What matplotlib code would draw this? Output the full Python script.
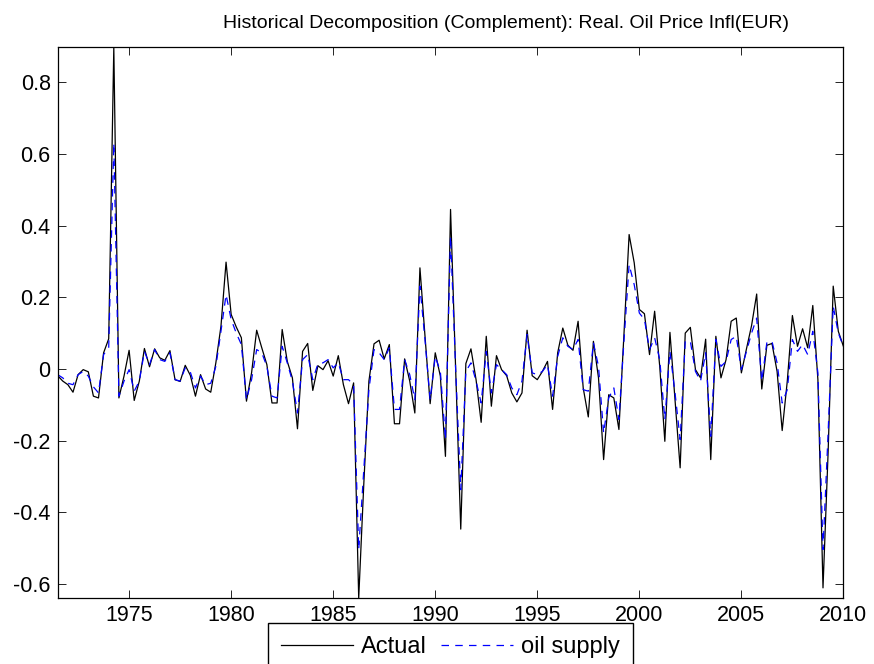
import matplotlib
matplotlib.use('Agg')
import matplotlib.pyplot as plt
import numpy as np

# ── Data: quarterly, 1971Q3 .. 2010Q1 ─────────────────────────────────────────
start_year = 1971.5
actual = [
    -0.019, -0.034, -0.044, -0.065, -0.016, -0.002, -0.008, -0.076, -0.081, 0.045,
    0.084, 0.897, -0.081, -0.020, 0.052, -0.088, -0.034, 0.057, 0.006, 0.056,
    0.031, 0.024, 0.051, -0.030, -0.035, 0.010, -0.018, -0.076, -0.016, -0.056,
    -0.065, 0.017, 0.119, 0.298, 0.152, 0.117, 0.087, -0.090, -0.011, 0.108,
    0.059, 0.012, -0.095, -0.095, 0.110, 0.021, -0.025, -0.167, 0.049, 0.071,
    -0.060, 0.009, -0.002, 0.023, -0.020, 0.037, -0.044, -0.097, -0.039, -0.640,
    -0.320, -0.034, 0.070, 0.080, 0.028, 0.068, -0.153, -0.153, 0.028, -0.034,
    -0.123, 0.282, 0.090, -0.097, 0.045, -0.020, -0.244, 0.445, 0.000, -0.447,
    0.015, 0.056, -0.030, -0.149, 0.091, -0.104, 0.037, -0.002, -0.019, -0.067,
    -0.092, -0.067, 0.108, -0.019, -0.030, -0.007, 0.021, -0.113, 0.045, 0.114,
    0.066, 0.052, 0.133, -0.053, -0.134, 0.077, -0.025, -0.253, -0.072, -0.081,
    -0.169, 0.100, 0.375, 0.296, 0.166, 0.154, 0.040, 0.161, 0.007, -0.202,
    0.102, -0.086, -0.276, 0.100, 0.116, -0.002, -0.025, 0.083, -0.253, 0.091,
    -0.025, 0.026, 0.133, 0.142, -0.011, 0.056, 0.121, 0.209, -0.056, 0.066,
    0.071, -0.007, -0.172, -0.034, 0.149, 0.063, 0.112, 0.059, 0.177, -0.030,
    -0.611, -0.234, 0.231, 0.105, 0.063,
]
oil_supply = [
    -0.016, -0.025, -0.040, -0.044, -0.016, -0.007, -0.020, -0.050, -0.067, 0.040,
    0.059, 0.630, -0.076, -0.034, -0.002, -0.062, -0.034, 0.049, 0.012, 0.054,
    0.026, 0.021, 0.045, -0.030, -0.034, 0.003, -0.009, -0.053, -0.020, -0.044,
    -0.040, 0.007, 0.105, 0.207, 0.138, 0.100, 0.068, -0.086, -0.030, 0.054,
    0.045, 0.007, -0.076, -0.081, 0.063, 0.017, -0.034, -0.123, 0.026, 0.040,
    -0.030, 0.014, 0.017, 0.026, 0.003, 0.017, -0.030, -0.030, -0.044, -0.504,
    -0.280, -0.058, 0.054, 0.045, 0.026, 0.059, -0.113, -0.113, 0.026, -0.016,
    -0.086, 0.231, 0.080, -0.086, 0.035, -0.007, -0.197, 0.370, 0.000, -0.337,
    -0.007, 0.017, -0.034, -0.095, 0.049, -0.067, 0.012, -0.002, -0.016, -0.053,
    -0.072, -0.034, 0.096, -0.011, -0.016, -0.007, 0.012, -0.076, 0.035, 0.087,
    0.063, 0.054, 0.082, -0.058, -0.062, 0.073, 0.007, -0.179, -0.081, -0.053,
    -0.141, 0.080, 0.291, 0.235, 0.156, 0.138, 0.054, 0.087, 0.026, -0.141,
    0.049, -0.067, -0.197, 0.077, 0.077, -0.007, -0.034, 0.045, -0.188, 0.082,
    0.007, 0.021, 0.082, 0.091, -0.002, 0.049, 0.100, 0.142, -0.034, 0.074,
    0.077, 0.017, -0.095, -0.058, 0.082, 0.049, 0.068, 0.040, 0.105, -0.011,
    -0.504, -0.179, 0.175, 0.100, 0.063,
]
x_ticks = [1975, 1980, 1985, 1990, 1995, 2000, 2005, 2010]
y_ticks = [-0.6, -0.4, -0.2, 0, 0.2, 0.4, 0.6, 0.8]
series_labels = ['Actual', 'oil supply']
title = 'Historical Decomposition (Complement): Real. Oil Price Infl(EUR)'

dates = start_year + 0.25 * np.arange(len(actual))

# ── Style (MATLAB-like) ───────────────────────────────────────────────────────
plt.rcParams['font.family'] = ['Liberation Sans', 'DejaVu Sans']
plt.rcParams['axes.unicode_minus'] = False

fig = plt.figure(figsize=(8.74, 6.64), dpi=100)
ax = fig.add_axes([0.066, 0.099, 0.899, 0.8295])

ax.plot(dates, actual, color='black', lw=0.9, label=series_labels[0])
ax.plot(dates, oil_supply, color='blue', lw=0.9, ls=(0, (6, 5)), label=series_labels[1])

ax.set_xlim(dates[0], dates[-1])
ax.set_ylim(min(actual), max(actual))
ax.set_xticks(x_ticks)
ax.set_yticks(y_ticks)
ax.set_yticklabels([f'{v:g}' for v in y_ticks])
ax.tick_params(direction='in', length=6, width=0.6, labelsize=15.5,
               top=True, right=True, pad=5)
for sp in ax.spines.values():
    sp.set_linewidth(0.9)

# title sits a little right of the axes centre in the original
ax.set_title(title, fontsize=14, pad=14, x=0.5705)

fig.legend(loc='upper center', bbox_to_anchor=(0.5155, 0.061), ncol=2,
           fontsize=17, frameon=True, fancybox=False, edgecolor='black',
           framealpha=1, handlelength=3.05, handletextpad=0.34,
           columnspacing=0.6, borderpad=0.55, borderaxespad=0)

fig.savefig('out.png', dpi=100)
